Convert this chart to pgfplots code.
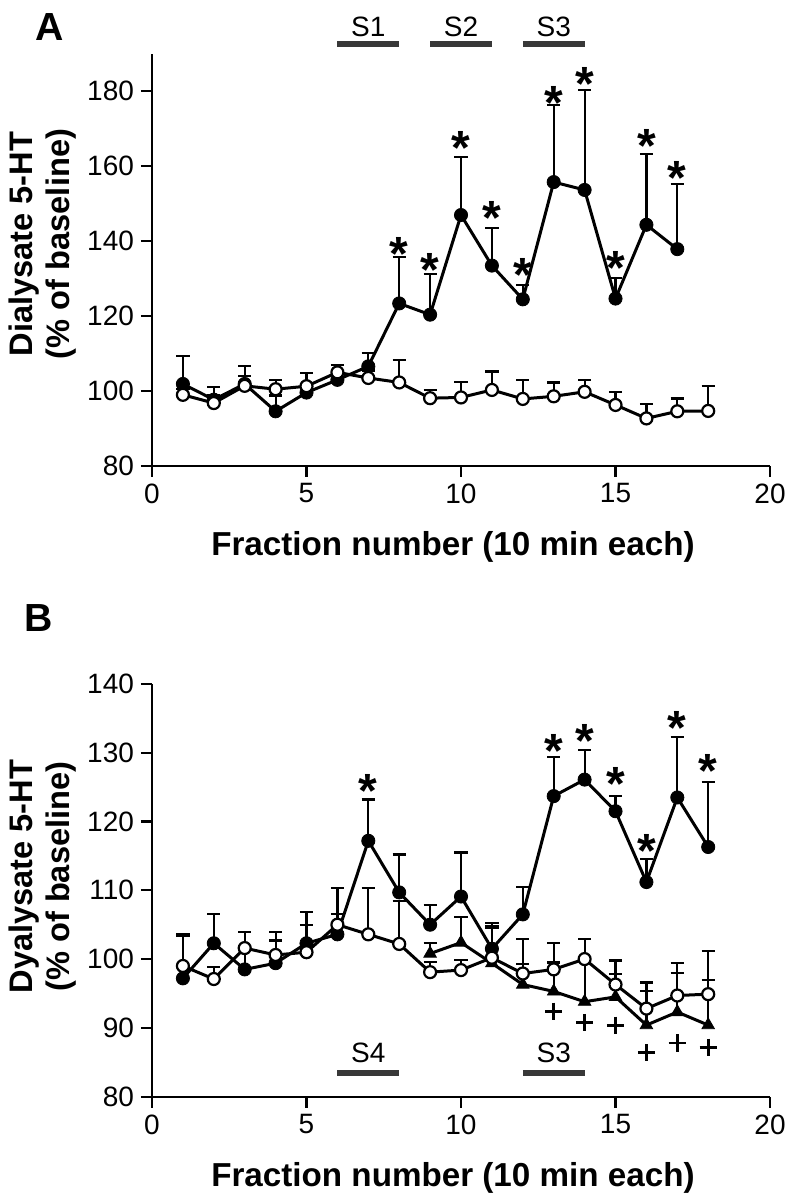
\documentclass[border=0pt]{standalone}
\usepackage{fontspec}
\setmainfont{Liberation Sans}
\usepackage{pgfplots}
\pgfplotsset{compat=1.18}
\tikzset{slab/.style={anchor=base, inner sep=0pt, font=\fontsize{14}{14}\selectfont}}
\begin{document}
\begin{tikzpicture}
\path[use as bounding box] (0,0) rectangle (394pt,-600pt);
\pgfplotsset{
  panel/.style={
    scale only axis, width=309pt,
    axis lines=left, axis line style={-, line width=1.1pt},
    every outer x axis line/.append style={-},
    every outer y axis line/.append style={-},
    xmin=0, xmax=20, xtick={0,5,...,20},
    tick align=outside, major tick length=5.5pt,
    tick style={line width=1.1pt, black},
    /pgf/number format/assume math mode=true,
    ticklabel style={font=\fontsize{14}{14}\selectfont},
    xlabel={Fraction number (10 min each)},
    xlabel style={at={(rel axis cs:0.487,0)}, anchor=base, yshift=-44.7pt,
      font=\bfseries\fontsize{16.6}{18}\selectfont},
    clip=false,
  },
  ebar/.style={error bars/.cd, y dir=plus, y explicit, error mark=-,
    error mark options={rotate=90, line width=1.1pt, mark size=3.3pt, black},
    error bar style={line width=1.1pt, black}},
  filled/.style={black, line width=1.5pt, mark=*, mark size=3.3pt,
    mark options={fill=black, line width=0.4pt}, ebar},
  open/.style={black, line width=1.5pt, mark=*, mark size=3pt,
    mark options={fill=white, draw=black, line width=1.1pt}, ebar},
  tri/.style={black, line width=1.5pt, mark=triangle*, mark size=3.6pt,
    mark options={fill=black, line width=0.4pt}, ebar},
  stars/.style={only marks, mark=text, text mark={*}, text mark as node=true,
    text mark style={font=\bfseries\fontsize{24}{24}\selectfont, inner sep=0pt, yshift=-5.2pt}},
  pluses/.style={only marks, mark=+, mark size=4.3pt, mark options={line width=1.4pt, black}},
  sbar/.style={line width=2.8pt, color=black!78, mark=none},
}

% ---------------- Panel A ----------------
\begin{axis}[panel, at={(76pt,-232.8pt)}, anchor=south west, height=206pt,
  ymin=80, ymax=190, ytick={80,100,...,180}]
\addplot[filled] table[x=x, y=y, y error=e] {
x y e
1 101.8 7.5
2 97.6 3.3
3 101.8 4.9
4 94.5 4.2
5 99.5 2.0
6 102.9 4.0
7 106.5 3.6
8 123.3 12.5
9 120.3 10.8
10 146.9 15.6
11 133.4 10.1
12 124.4 3.8
13 155.7 20.5
14 153.6 26.6
15 124.6 5.5
16 144.3 18.8
17 137.8 17.4
};
\addplot[open] table[x=x, y=y, y error=e] {
x y e
1 98.9 1.5
2 96.7 2.0
3 101.3 2.7
4 100.4 2.5
5 101.2 3.5
6 104.9 2.0
7 103.4 2.0
8 102.2 6.1
9 98.0 2.2
10 98.2 4.2
11 100.2 4.9
12 97.8 5.0
13 98.5 3.7
14 99.7 3.2
15 96.2 3.5
16 92.6 3.9
17 94.5 3.4
18 94.6 6.6
};
\addplot[stars] coordinates {
(8,139.4) (9,134.9) (10,167.5) (11,148.9) (12,133.6)
(13,179.7) (14,184.6) (15,135.5) (16,168.1) (17,159.6)};
\addplot[sbar] coordinates {(6,192.5) (8,192.5)};
\addplot[sbar] coordinates {(9,192.5) (11,192.5)};
\addplot[sbar] coordinates {(12,192.5) (14,192.5)};
\node[slab] at (axis cs:7,194.7) {S1};
\node[slab] at (axis cs:10,194.7) {S2};
\node[slab] at (axis cs:13,194.7) {S3};
\end{axis}

% ---------------- Panel B ----------------
\begin{axis}[panel, at={(76pt,-548.3pt)}, anchor=south west, height=206.3pt,
  ymin=80, ymax=140, ytick={80,90,...,140}]
\addplot[filled] table[x=x, y=y, y error=e] {
x y e
1 97.2 6.1
2 102.3 4.3
3 98.5 5.4
4 99.4 4.5
5 102.3 4.5
6 103.6 6.7
7 117.2 6.0
8 109.7 5.5
9 105.0 2.9
10 109.1 6.4
11 101.5 3.7
12 106.5 4.0
13 123.7 5.7
14 126.1 4.3
15 121.5 2.2
16 111.2 3.4
17 123.5 8.8
18 116.3 9.4
};
\addplot[tri] table[x=x, y=y, y error=e] {
x y e
9 100.8 1.5
10 102.4 3.7
11 99.4 5.4
12 96.3 3.0
13 95.3 4.2
14 93.8 6.0
15 94.5 3.3
16 90.4 5.0
17 92.3 5.7
18 90.4 6.6
};
\addplot[open] table[x=x, y=y, y error=e] {
x y e
1 99.0 4.6
2 97.1 1.8
3 101.6 2.3
4 100.6 2.1
5 101.0 3.9
6 105.0 1.6
7 103.6 6.7
8 102.2 6.2
9 98.1 1.5
10 98.4 1.5
11 100.2 4.3
12 97.9 5.0
13 98.5 3.8
14 100.0 2.9
15 96.3 3.5
16 92.8 3.8
17 94.7 4.7
18 94.9 6.3
};
\addplot[stars] coordinates {
(7,126.0) (13,131.8) (14,133.2) (15,127.0) (16,117.3) (17,135.1) (18,128.8)};
\addplot[pluses] coordinates {
(13,92.4) (14,90.8) (15,90.4) (16,86.4) (17,87.8) (18,87.2)};
\addplot[sbar] coordinates {(6,83.4) (8,83.4)};
\addplot[sbar] coordinates {(12,83.4) (14,83.4)};
\node[slab] at (axis cs:7,84.9) {S4};
\node[slab] at (axis cs:13,84.9) {S3};
\end{axis}

% panel letters and y labels
\node[inner sep=0pt, font=\bfseries\fontsize{19.6}{20}\selectfont] at (25pt,-13.5pt) {A};
\node[inner sep=0pt, font=\bfseries\fontsize{19.6}{20}\selectfont] at (19.5pt,-308.9pt) {B};
\node[rotate=90, align=center, inner sep=0pt, font=\bfseries\fontsize{16.3}{18.5}\selectfont]
  at (21.5pt,-122pt) {Dialysate 5-HT\\(\% of baseline)};
\node[rotate=90, align=center, inner sep=0pt, font=\bfseries\fontsize{16.3}{18.5}\selectfont]
  at (21.5pt,-438.3pt) {Dyalysate 5-HT\\(\% of baseline)};
\end{tikzpicture}
\end{document}
